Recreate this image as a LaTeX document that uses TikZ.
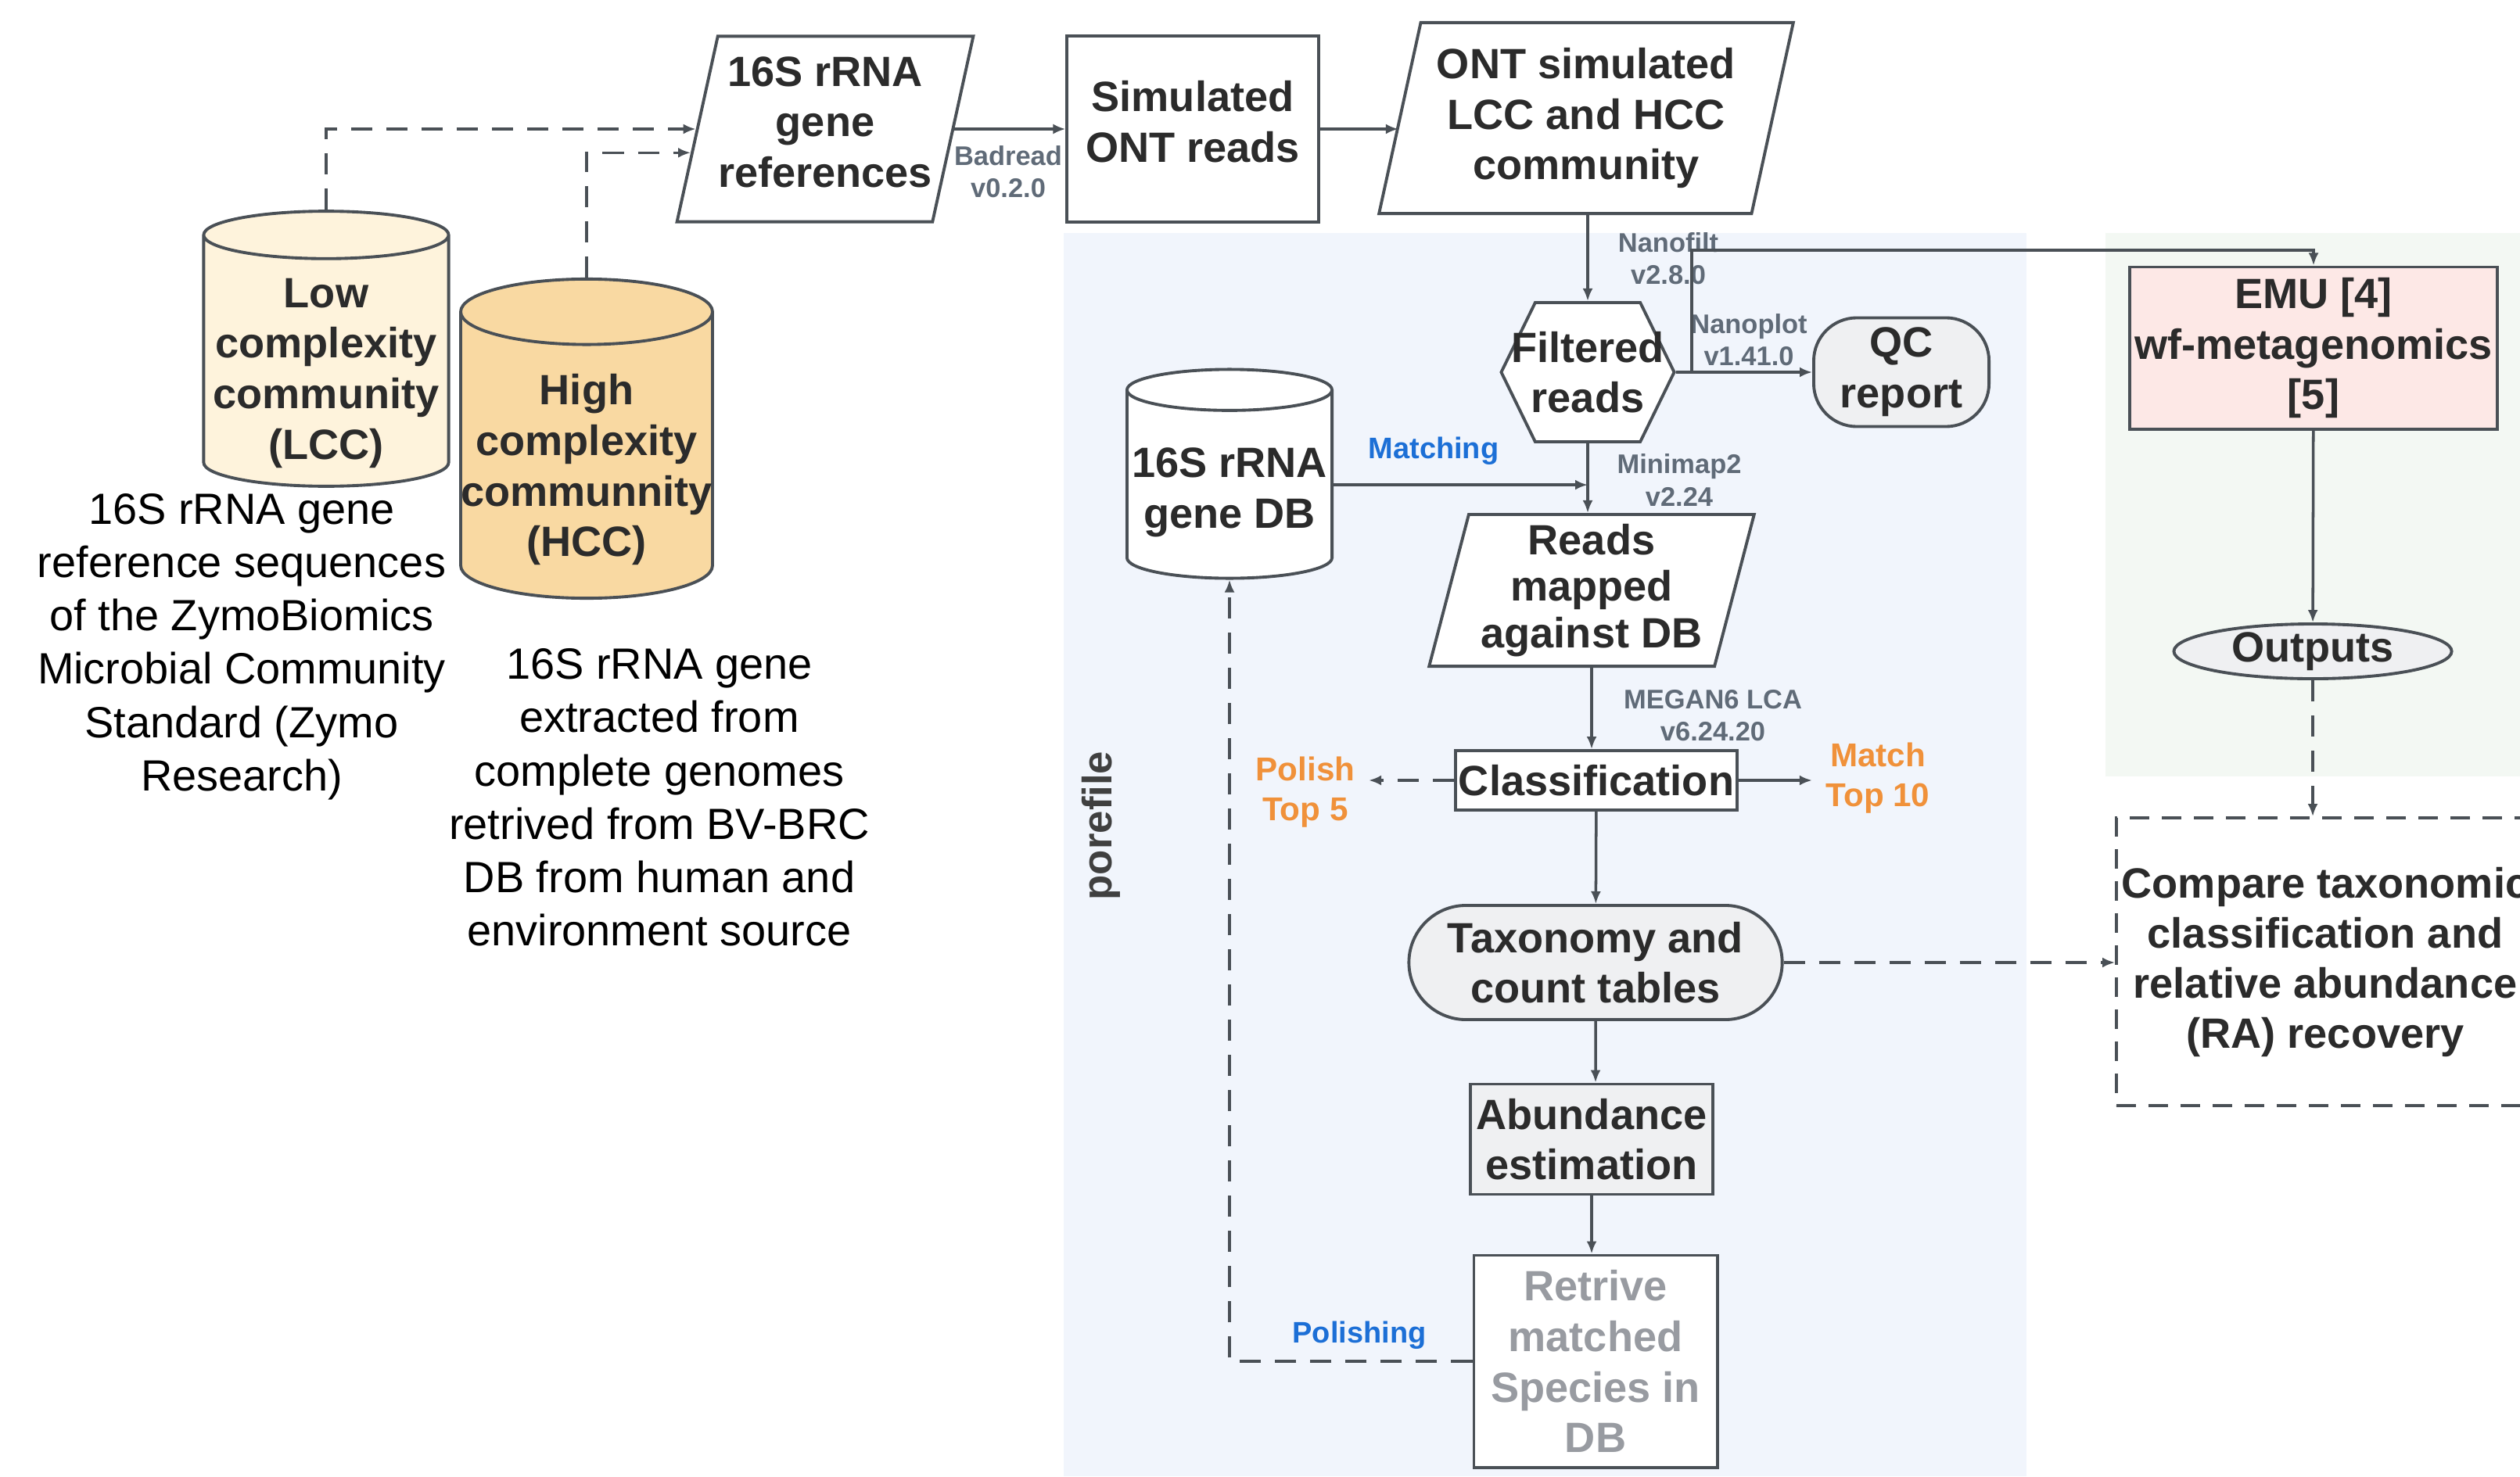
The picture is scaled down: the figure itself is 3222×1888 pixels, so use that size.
\documentclass[tikz,border=0pt]{standalone}
\usepackage{fontspec}
\setmainfont{Liberation Sans}
\usetikzlibrary{shapes.geometric,shapes.symbols,shapes.misc,arrows.meta,positioning}

\definecolor{lineclr}{HTML}{4A5056}
\definecolor{ink}{HTML}{2B2B2B}
\definecolor{toolclr}{HTML}{606B78}
\definecolor{noteclr}{HTML}{F0913A}
\definecolor{linkclr}{HTML}{1C6FD6}
\definecolor{faded}{HTML}{989BA1}
\definecolor{lccfill}{HTML}{FEF3DC}
\definecolor{hccfill}{HTML}{F9D9A2}
\definecolor{emufill}{HTML}{FDE8E6}
\definecolor{greyfill}{HTML}{EFF0F2}
\definecolor{poreband}{HTML}{F1F5FC}
\definecolor{emuband}{HTML}{F3F8F3}

% lines of a node text, moved up or down without changing the node
\newcommand{\shifttext}[2]{\raisebox{#1}[\height][\depth]{\begin{tabular}{@{}c@{}}#2\end{tabular}}}

\tikzset{
  box/.style={draw=lineclr, line width=1.1pt, text=ink, align=center,
    font=\fontsize{15.4}{18.4}\selectfont\bfseries, inner sep=0pt},
  proc/.style={box, rectangle, fill=white},
  iobox/.style={box, trapezium, trapezium left angle=75, trapezium right angle=105,
    trapezium stretches=true, fill=white},
  store/.style={box, cylinder, shape border rotate=90, anchor=shape center},
  termbox/.style={box, rounded rectangle, fill=greyfill},
  arr/.style={-{Latex[length=1.6mm,width=1.3mm]}, draw=lineclr, line width=1pt},
  dsh/.style={arr, dash pattern=on 2.7mm off 1.8mm},
  toollbl/.style={text=toolclr, font=\fontsize{9.8}{11.7}\selectfont\bfseries, align=center, inner sep=0pt},
  notelbl/.style={text=noteclr, font=\fontsize{12}{14.5}\selectfont\bfseries, align=center,
    inner xsep=0.17cm, inner ysep=0pt},
  linklbl/.style={text=linkclr, font=\fontsize{10.8}{13}\selectfont\bfseries, inner sep=0pt},
  caption/.style={text=black, font=\fontsize{15.9}{19.4}\selectfont, align=center, inner sep=0pt}
}

\begin{document}
\begin{tikzpicture}[x=0.01cm,y=-0.01cm]
  \useasboundingbox (0,0) rectangle (3222,1888);
  \clip (0,0) rectangle (3222,1888);

  % background panels
  \fill[poreband] (1360,298) rectangle (2591,1888);
  \fill[emuband] (2692,298) rectangle (3222,993);
  \node[rotate=90, text=ink!90, font=\fontsize{15}{18}\selectfont\bfseries] (porefile) at (1408,1056) {porefile};

  % communities
  \node[store, fill=lccfill, minimum width=3.13cm, minimum height=3.29cm, aspect=0.21] (lcc) at (417,446)
    {\shifttext{-0.15cm}{Low\\complexity\\community\\(LCC)}};
  \node[store, fill=hccfill, minimum width=3.11cm, minimum height=4.08cm, aspect=0.26] (hcc) at (750,561)
    {\shifttext{-0.19cm}{High\\complexity\\communnity\\(HCC)}};
  \node[caption] (lcccap) at (309,827) {16S rRNA gene\\reference sequences\\of the ZymoBiomics\\Microbial Community\\Standard (Zymo\\Research)};
  \node[caption] (hcccap) at (843,1020) {16S rRNA gene\\extracted from\\complete genomes\\retrived from BV-BRC\\DB from human and\\environment source};

  % simulation
  \node[iobox, minimum width=3.79cm, minimum height=2.37cm] (refs) at (1055,165) {\shifttext{0.03cm}{16S rRNA\\gene\\references}};
  \node[proc, minimum width=3.21cm, minimum height=2.37cm] (sim) at (1525,165) {\shifttext{0.03cm}{Simulated\\ONT reads}};
  \node[iobox, minimum width=5.30cm, minimum height=2.44cm] (ont) at (2028,151) {ONT simulated\\LCC and HCC\\community};

  % porefile
  \node[box, signal, signal to=west and east, signal pointer angle=128, fill=white,
    minimum width=2.21cm, minimum height=1.78cm] (filt) at (2030,476) {\makebox[0pt]{Filtered}\\\makebox[0pt]{reads}};
  \node[box, rectangle, rounded corners=0.55cm, fill=greyfill, minimum width=2.24cm, minimum height=1.39cm] (qc) at (2431,476) {QC\\report};
  \node[store, fill=white, minimum width=2.62cm, minimum height=2.67cm, aspect=0.21] (db) at (1572,606)
    {\shifttext{-0.1cm}{16S rRNA\\gene DB}};
  \node[iobox, minimum width=4.16cm, minimum height=1.94cm, font=\fontsize{15.4}{17}\selectfont\bfseries] (reads) at (2035,755) {Reads\\mapped\\against DB};
  \node[proc, minimum width=3.60cm, minimum height=0.76cm] (cls) at (2041,998) {Classification};
  \node[termbox, minimum width=4.77cm, minimum height=1.46cm] (tax) at (2040,1231) {Taxonomy and\\count tables};
  \node[proc, fill=greyfill, minimum width=3.10cm, minimum height=1.41cm] (abund) at (2035,1457) {Abundance\\estimation};
  \node[proc, text=faded, minimum width=3.11cm, minimum height=2.71cm] (retr) at (2040,1741) {Retrive\\matched\\Species in\\DB};

  % EMU / wf-metagenomics
  \node[proc, fill=emufill, minimum width=4.70cm, minimum height=2.07cm] (emu) at (2958,445) {EMU [4]\\wf-metagenomics\\{[5]}};
  \node[box, ellipse, fill=greyfill, minimum width=3.55cm, minimum height=0.70cm] (outp) at (2957,833) {Outputs};
  \node[box, rectangle, fill=white, dash pattern=on 2.5mm off 1.6mm, line width=1pt,
    minimum width=5.34cm, minimum height=3.68cm, font=\fontsize{15.4}{18.2}\selectfont\bfseries] (cmp) at (2973,1230)
    {Compare taxonomic\\classification and\\relative abundance\\(RA) recovery};

  % tool labels
  \node[toollbl] (badread) at (1289,220) {Badread\\v0.2.0};
  \node[toollbl] (nanofilt) at (2133,331) {Nanofilt\\v2.8.0};
  \node[toollbl] (nanoplot) at (2236,435) {Nanoplot\\v1.41.0};
  \node[toollbl] (minimap) at (2147,614) {Minimap2\\v2.24};
  \node[toollbl] (megan) at (2190,915) {MEGAN6 LCA\\v6.24.20};
  \node[linklbl] (matching) at (1833,577) {Matching};
  \node[linklbl] (polishing) at (1738,1708) {Polishing};
  \node[notelbl] (polish) at (1669,1013) {Polish\\Top 5};
  \node[notelbl] (match) at (2401,995) {Match\\Top 10};

  % connectors
  \draw[dsh] (lcc.north) |- (refs.west);
  \draw[dsh] (hcc.north) |- (refs.190);
  \draw[arr] (refs) -- (sim);
  \draw[arr] (sim.east) -- (sim.east -| ont.west);
  \draw[arr] (ont.south -| filt) -- (filt);
  \draw[arr] (filt) -- (qc);
  \coordinate (split) at (2163,476);
  \coordinate (emubend) at (2163,320);
  \draw[arr] (split) -- (emubend) -| (emu.north);
  \draw[arr] (filt) -- (filt |- reads.north);
  \draw[arr] (db.east) -- (db.east -| filt);
  \draw[arr] (reads.south) -- (reads.south |- cls.north);
  \draw[dsh] (cls.west) -- (cls.west -| polish.east);
  \draw[arr] (cls.east) -- (cls.east -| match.west);
  \draw[arr] (cls) -- (tax);
  \draw[arr] (tax) -- (tax |- abund.north);
  \draw[arr] (abund.south) -- (abund.south |- retr.north);
  \draw[dsh] (retr.west) -| (db.south);
  \draw[dsh] (tax.east) -- (tax.east -| cmp.west);
  \draw[arr] (emu) -- (outp);
  \draw[dsh] (outp) -- (outp |- cmp.north);
\end{tikzpicture}
\end{document}
